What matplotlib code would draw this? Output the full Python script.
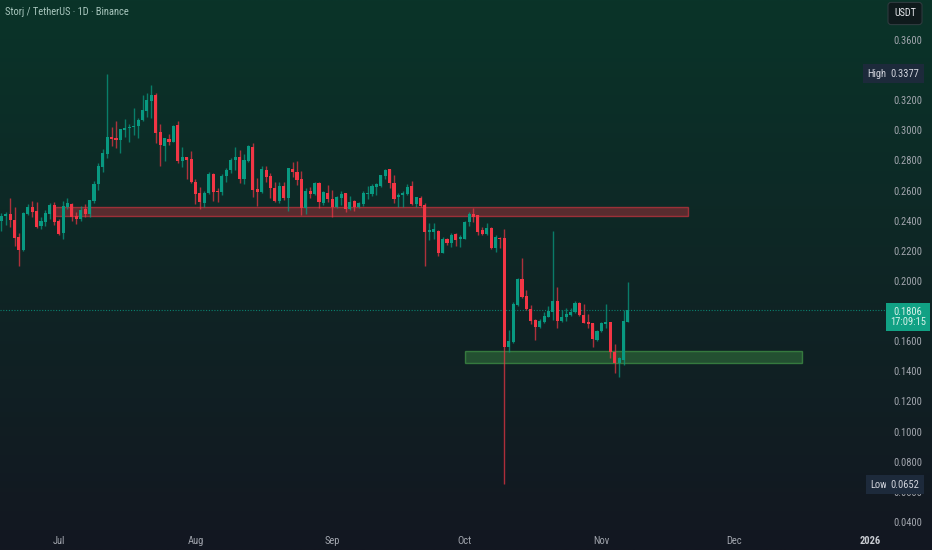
import numpy as np
import pandas as pd
import matplotlib
matplotlib.use("Agg")
import matplotlib.pyplot as plt
import matplotlib.dates as mdates
from matplotlib.patches import Rectangle
from matplotlib.transforms import blended_transform_factory
from matplotlib.ticker import FuncFormatter, FixedLocator
from matplotlib import font_manager

# ---------------- data ----------------
dates = pd.date_range("2025-06-18", periods=143, freq="D")

opens = [0.2400, 0.2431, 0.2442, 0.2405, 0.2292, 0.2206, 0.2447, 0.2493, 0.2465, 0.2363,
         0.2391, 0.2447, 0.2507, 0.2398, 0.2316, 0.2493, 0.2511, 0.2434, 0.2411, 0.2478,
         0.2442, 0.2531, 0.2641, 0.2759, 0.2845, 0.2954, 0.2950, 0.2936, 0.3002, 0.3014,
         0.3022, 0.3031, 0.3069, 0.3131, 0.3197, 0.3237, 0.2989, 0.2899, 0.2943, 0.2925,
         0.3038, 0.2799, 0.2823, 0.2812, 0.2659, 0.2582, 0.2520, 0.2582, 0.2710, 0.2600,
         0.2589, 0.2699, 0.2737, 0.2806, 0.2821, 0.2675, 0.2797, 0.2892, 0.2611, 0.2589,
         0.2739, 0.2699, 0.2620, 0.2533, 0.2633, 0.2549, 0.2743, 0.2726, 0.2677, 0.2482,
         0.2600, 0.2575, 0.2651, 0.2520, 0.2586, 0.2544, 0.2493, 0.2553, 0.2582, 0.2478,
         0.2531, 0.2489, 0.2509, 0.2580, 0.2577, 0.2626, 0.2630, 0.2697, 0.2741, 0.2653,
         0.2555, 0.2569, 0.2577, 0.2630, 0.2509, 0.2553, 0.2504, 0.2327, 0.2327, 0.2332,
         0.2188, 0.2276, 0.2250, 0.2310, 0.2276, 0.2279, 0.2389, 0.2442, 0.2438, 0.2338,
         0.2312, 0.2354, 0.2217, 0.2288, 0.2283, 0.1560, 0.1593, 0.1838, 0.2011, 0.1900,
         0.1812, 0.1741, 0.1692, 0.1730, 0.1763, 0.1796, 0.1867, 0.1736, 0.1763, 0.1774,
         0.1792, 0.1856, 0.1774, 0.1730, 0.1719, 0.1608, 0.1670, 0.1714, 0.1730, 0.1531,
         0.1454, 0.1476, 0.1730]

highs = [0.2449, 0.2460, 0.2549, 0.2489, 0.2321, 0.2455, 0.2511, 0.2531, 0.2527, 0.2427,
         0.2471, 0.2520, 0.2527, 0.2414, 0.2531, 0.2553, 0.2520, 0.2460, 0.2498, 0.2511,
         0.2540, 0.2664, 0.2785, 0.2874, 0.3377, 0.3025, 0.3062, 0.3009, 0.3076, 0.3042,
         0.3146, 0.3080, 0.3235, 0.3246, 0.3301, 0.3248, 0.3042, 0.2950, 0.2974, 0.3036,
         0.3060, 0.2892, 0.2825, 0.2863, 0.2677, 0.2626, 0.2600, 0.2724, 0.2719, 0.2615,
         0.2708, 0.2748, 0.2814, 0.2892, 0.2870, 0.2843, 0.2903, 0.2914, 0.2681, 0.2766,
         0.2766, 0.2715, 0.2659, 0.2655, 0.2659, 0.2752, 0.2788, 0.2796, 0.2730, 0.2615,
         0.2626, 0.2655, 0.2659, 0.2597, 0.2637, 0.2604, 0.2566, 0.2597, 0.2586, 0.2564,
         0.2538, 0.2527, 0.2597, 0.2630, 0.2644, 0.2653, 0.2704, 0.2743, 0.2741, 0.2704,
         0.2582, 0.2600, 0.2644, 0.2664, 0.2560, 0.2564, 0.2515, 0.2383, 0.2383, 0.2338,
         0.2294, 0.2283, 0.2321, 0.2316, 0.2305, 0.2400, 0.2460, 0.2482, 0.2438, 0.2360,
         0.2387, 0.2361, 0.2305, 0.2294, 0.2343, 0.1675, 0.1858, 0.2022, 0.2155, 0.1940,
         0.1840, 0.1745, 0.1745, 0.1796, 0.1834, 0.2332, 0.1962, 0.1807, 0.1818, 0.1818,
         0.1869, 0.1863, 0.1847, 0.1781, 0.1723, 0.1675, 0.1730, 0.1847, 0.1730, 0.1582,
         0.1498, 0.1807, 0.1995]

lows = [0.2334, 0.2372, 0.2360, 0.2232, 0.2102, 0.2200, 0.2440, 0.2427, 0.2349, 0.2347,
        0.2365, 0.2414, 0.2374, 0.2303, 0.2279, 0.2478, 0.2398, 0.2378, 0.2400, 0.2427,
        0.2427, 0.2516, 0.2604, 0.2726, 0.2814, 0.2896, 0.2881, 0.2848, 0.2958, 0.2921,
        0.2969, 0.2947, 0.3064, 0.3086, 0.3080, 0.2914, 0.2766, 0.2799, 0.2903, 0.2923,
        0.2781, 0.2755, 0.2679, 0.2653, 0.2511, 0.2478, 0.2494, 0.2578, 0.2533, 0.2527,
        0.2571, 0.2655, 0.2715, 0.2737, 0.2653, 0.2642, 0.2792, 0.2560, 0.2500, 0.2582,
        0.2659, 0.2553, 0.2527, 0.2516, 0.2538, 0.2465, 0.2693, 0.2637, 0.2438, 0.2445,
        0.2549, 0.2571, 0.2487, 0.2504, 0.2527, 0.2427, 0.2482, 0.2504, 0.2460, 0.2471,
        0.2467, 0.2482, 0.2500, 0.2542, 0.2564, 0.2571, 0.2622, 0.2675, 0.2615, 0.2520,
        0.2489, 0.2489, 0.2571, 0.2504, 0.2493, 0.2493, 0.2100, 0.2272, 0.2276, 0.2166,
        0.2184, 0.2239, 0.2228, 0.2232, 0.2228, 0.2276, 0.2367, 0.2394, 0.2305, 0.2305,
        0.2305, 0.2210, 0.2195, 0.2217, 0.0652, 0.1531, 0.1586, 0.1834, 0.1889, 0.1807,
        0.1714, 0.1608, 0.1686, 0.1723, 0.1759, 0.1741, 0.1686, 0.1730, 0.1736, 0.1768,
        0.1785, 0.1767, 0.1719, 0.1686, 0.1564, 0.1604, 0.1664, 0.1686, 0.1486, 0.1387,
        0.1365, 0.1442, 0.1725]

closes = [0.2433, 0.2445, 0.2405, 0.2287, 0.2206, 0.2451, 0.2493, 0.2458, 0.2356, 0.2398,
          0.2453, 0.2507, 0.2391, 0.2312, 0.2500, 0.2518, 0.2427, 0.2411, 0.2471, 0.2447,
          0.2538, 0.2646, 0.2763, 0.2852, 0.2956, 0.2940, 0.2936, 0.3009, 0.3014, 0.3022,
          0.3029, 0.3069, 0.3137, 0.3202, 0.3237, 0.2985, 0.2901, 0.2947, 0.2925, 0.3031,
          0.2799, 0.2821, 0.2806, 0.2657, 0.2578, 0.2522, 0.2584, 0.2713, 0.2593, 0.2589,
          0.2699, 0.2739, 0.2803, 0.2823, 0.2675, 0.2803, 0.2896, 0.2604, 0.2589, 0.2741,
          0.2693, 0.2615, 0.2533, 0.2633, 0.2549, 0.2748, 0.2721, 0.2670, 0.2482, 0.2600,
          0.2578, 0.2648, 0.2527, 0.2589, 0.2544, 0.2493, 0.2555, 0.2577, 0.2478, 0.2527,
          0.2489, 0.2520, 0.2582, 0.2586, 0.2633, 0.2644, 0.2701, 0.2737, 0.2648, 0.2546,
          0.2571, 0.2586, 0.2626, 0.2509, 0.2555, 0.2500, 0.2327, 0.2338, 0.2343, 0.2188,
          0.2276, 0.2250, 0.2305, 0.2272, 0.2290, 0.2394, 0.2442, 0.2427, 0.2327, 0.2312,
          0.2354, 0.2217, 0.2294, 0.2276, 0.1560, 0.1602, 0.1845, 0.2015, 0.1896, 0.1812,
          0.1736, 0.1692, 0.1736, 0.1768, 0.1801, 0.1867, 0.1736, 0.1763, 0.1781, 0.1796,
          0.1856, 0.1774, 0.1723, 0.1714, 0.1613, 0.1670, 0.1719, 0.1730, 0.1531, 0.1458,
          0.1491, 0.1736, 0.1806]

price_ticks = [0.04, 0.06, 0.08, 0.10, 0.12, 0.14, 0.16, 0.20, 0.22, 0.24,
               0.26, 0.28, 0.30, 0.32, 0.34, 0.36]
month_ticks = ["2025-07-01", "2025-08-01", "2025-09-01", "2025-10-01",
               "2025-11-01", "2025-12-01", "2026-01-01"]
month_labels = ["Jul", "Aug", "Sep", "Oct", "Nov", "Dec", "2026"]

resistance_zone = {"start": "2025-06-30 05:00", "end": "2025-11-20 14:00", "low": 0.2431, "high": 0.2489}
support_zone = {"start": "2025-10-01 02:00", "end": "2025-12-16 10:00", "low": 0.1453, "high": 0.1535}

high_value = 0.3377
low_value = 0.0652
last_price = 0.1806
countdown = "17:09:15"
title = "Storj / TetherUS · 1D · Binance"
currency = "USDT"

# ---------------- style ----------------
UP = "#089981"
DOWN = "#F23645"
W, H = 932, 550

available = {f.name for f in font_manager.fontManager.ttflist}
fams = [f for f in ["Liberation Sans Narrow", "Roboto Condensed", "Roboto", "DejaVu Sans"] if f in available]
plt.rcParams["font.family"] = fams
narrow = fams[0] in ("Liberation Sans Narrow", "Roboto Condensed")
FS = 7.6 if narrow else 6.6

fig = plt.figure(figsize=(W / 100, H / 100), dpi=100)

# gradient background
bg = fig.add_axes([0, 0, 1, 1], zorder=-10)
top = np.array([10, 52, 41]) / 255.0
bot = np.array([19, 23, 33]) / 255.0
t = np.linspace(0, 1, 256)[:, None]
grad = (top[None, :] * (1 - t) + bot[None, :] * t)[:, None, :]
grad = np.repeat(grad, 2, axis=1)
bg.imshow(grad, aspect="auto", extent=[0, 1, 0, 1], origin="upper")
bg.set_axis_off()

ax = fig.add_axes([0, 20 / H, 885 / W, 530 / H])
ax.set_facecolor("none")

x = mdates.date2num(dates)
o = np.array(opens); c = np.array(closes); hi = np.array(highs); lo = np.array(lows)
up = c >= o
colors = np.where(up, UP, DOWN)

# zones
for zone, fc, ec in [(resistance_zone, (0.95, 0.21, 0.27, 0.33), (0.95, 0.21, 0.27, 0.55)),
                     (support_zone, (0.30, 0.69, 0.31, 0.33), (0.30, 0.69, 0.31, 0.55))]:
    x0 = mdates.date2num(pd.Timestamp(zone["start"]))
    x1 = mdates.date2num(pd.Timestamp(zone["end"]))
    ax.add_patch(Rectangle((x0, zone["low"]), x1 - x0, zone["high"] - zone["low"],
                           facecolor=fc, edgecolor=ec, lw=1.0, zorder=1))

# candles
wick_cols = [(0.03, 0.6, 0.5, 0.75) if u else (0.95, 0.21, 0.27, 0.7) for u in up]
ax.vlines(x, lo, hi, colors=wick_cols, lw=1.0, zorder=2)
body_h = np.maximum(np.abs(c - o), 0.0004)
ax.bar(x, body_h, bottom=np.minimum(o, c), width=0.7, color=colors, lw=0, zorder=3)

# last price line
ax.axhline(last_price, color=UP, lw=0.8, ls=(0, (1, 1.5)), alpha=0.8, zorder=1.5)

x_left = mdates.date2num(dates[0]) - 0.294
ax.set_xlim(x_left, x_left + 200.55)
ax.set_ylim(0.03464, 0.38656)

for s in ax.spines.values():
    s.set_visible(False)

ax.yaxis.tick_right()
ax.yaxis.set_major_locator(FixedLocator(price_ticks))
ax.yaxis.set_major_formatter(FuncFormatter(lambda v, p: f"{v:.4f}"))
ax.tick_params(axis="y", length=0, pad=6, labelsize=FS, labelcolor="#a2a6ae")

xt = mdates.date2num(pd.to_datetime(month_ticks))
ax.set_xticks(xt)
ax.set_xticklabels(month_labels)
ax.tick_params(axis="x", length=0, pad=4.5, labelsize=FS, labelcolor="#a2a6ae")
for lab in ax.get_xticklabels():
    if lab.get_text() == "2026":
        lab.set_fontweight("bold")
        lab.set_color("#c9ccd2")

# labels on the price scale
tr = blended_transform_factory(fig.transFigure, ax.transData)


def tag(xpx, y, s, fc, color, pad=0.42, fs=FS):
    ax.text(xpx / W, y, s, transform=tr, ha="center", va="center", fontsize=fs,
            color=color, bbox=dict(boxstyle=f"square,pad={pad}", fc=fc, ec="none"),
            clip_on=False, zorder=10, linespacing=1.05)


tag(876.5, high_value, "High", "#1d2a3b", "#d1d4dc")
tag(905, high_value, f"{high_value:.4f}", "#1d2a3b", "#d1d4dc")
tag(878.5, low_value - 0.0005, "Low", "#1d2a3b", "#d1d4dc")
tag(905, low_value - 0.0005, f"{low_value:.4f}", "#1d2a3b", "#d1d4dc")
tag(908, last_price - 0.0045, f"{last_price:.4f}\n{countdown}", "#11a184", "#d8f2ea", pad=0.4)

# title and currency button
fig.text(5 / W, 1 - 12 / H, title, fontsize=FS, color="#a8c6bd", ha="left", va="center")
fig.text(905 / W, 1 - 13.5 / H, currency, fontsize=FS - 0.3, color="#e6e8ec", ha="center", va="center",
         bbox=dict(boxstyle="round,pad=0.6,rounding_size=0.3", fc="#0f1a1c", ec="#2e3a3e", lw=0.8))

fig.savefig("out.png", dpi=100)
